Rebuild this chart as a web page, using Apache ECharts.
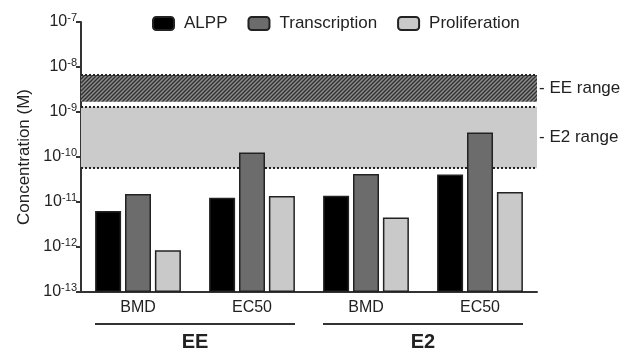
<!DOCTYPE html>
<html>
<head>
<meta charset="utf-8">
<script src="https://cdn.jsdelivr.net/npm/echarts@6/dist/echarts.min.js"></script>
<style>
  html, body { margin: 0; padding: 0; background: #fff; }
  #chart { width: 628px; height: 353px; }
</style>
</head>
<body>
<div id="chart"></div>
<script>
// data
const categories = ['BMD', 'EC50', 'BMD', 'EC50']
const groups = ['EE', 'E2']
const alpp = [6.3e-12, 1.25e-11, 1.38e-11, 4.1e-11]
const transcription = [1.5e-11, 1.26e-10, 4.2e-11, 3.5e-10]
const proliferation = [8.5e-13, 1.36e-11, 4.5e-12, 1.67e-11]
const eeRange = [1.7e-9, 6.6e-9]
const e2Range = [5.6e-11, 1.3e-9]
const yMin = 1e-13
const yMax = 1e-7

const FONT = '"Liberation Sans", Arial, sans-serif'
const INK = '#222'

// diagonal hatch for the EE band
function hatch() {
  const c = document.createElement('canvas')
  c.width = 4
  c.height = 4
  const g = c.getContext('2d')
  g.fillStyle = '#8c8c8c'
  g.fillRect(0, 0, 4, 4)
  g.strokeStyle = '#2e2e2e'
  g.lineWidth = 1.3
  g.beginPath()
  g.moveTo(0, 4); g.lineTo(4, 0)
  g.moveTo(-1, 1); g.lineTo(1, -1)
  g.moveTo(3, 5); g.lineTo(5, 3)
  g.stroke()
  return c
}

const chart = echarts.init(document.getElementById('chart'))

const bar = (name, data, color) => ({
  name,
  type: 'bar',
  data,
  barWidth: 26,
  barGap: '15%',
  z: 3,
  itemStyle: {color, borderColor: INK, borderWidth: 1.5},
})

// the two concentration bands
const bands = {
  name: 'ranges',
  type: 'line',
  data: [],
  z: 1,
  markArea: {
    silent: true,
    label: {show: true, position: 'right', distance: 2, color: INK, fontSize: 17, fontFamily: FONT},
    data: [
      [{yAxis: eeRange[1], name: '- EE range', itemStyle: {color: {image: hatch(), repeat: 'repeat'}}},
       {yAxis: eeRange[0]}],
      [{yAxis: e2Range[1], name: '- E2 range', itemStyle: {color: '#cbcbcb'}},
       {yAxis: e2Range[0]}],
    ],
  },
}

const options = {
  animation: false,
  textStyle: {fontFamily: FONT, color: INK},
  grid: {left: 81, right: 91, top: 22, bottom: 61},
  legend: {
    top: 10,
    left: 147,
    itemWidth: 21,
    itemHeight: 13,
    itemGap: 20,
    textStyle: {fontSize: 17, color: INK, fontFamily: FONT, padding: [0, 0, 0, 5]},
    data: ['ALPP', 'Transcription', 'Proliferation'],
  },
  xAxis: [
    {
      type: 'category',
      data: categories,
      axisLine: {lineStyle: {color: '#333', width: 2}},
      axisTick: {alignWithLabel: true, length: 5, lineStyle: {width: 2}},
      axisLabel: {fontSize: 16, color: INK, margin: 8, fontFamily: FONT},
    },
    {
      type: 'category',
      data: groups,
      position: 'bottom',
      axisLine: {show: false},
      axisTick: {show: false},
      axisLabel: {fontSize: 20, fontWeight: 'bold', color: INK, margin: 40, fontFamily: FONT},
    },
  ],
  yAxis: {
    type: 'log',
    logBase: 10,
    min: yMin,
    max: yMax,
    startValue: yMin,
    interval: 1,
    name: 'Concentration (M)',
    nameLocation: 'middle',
    nameGap: 48,
    nameTextStyle: {fontSize: 17, color: INK, fontFamily: FONT},
    axisLine: {show: true, lineStyle: {color: '#333', width: 2}},
    axisTick: {show: true, length: 5, lineStyle: {width: 2}},
    splitLine: {show: false},
    axisLabel: {
      margin: 4,
      formatter: v => `{b|10}{s|${Math.round(Math.log10(v))}}`,
      rich: {
        b: {fontSize: 16, color: INK, fontFamily: FONT, lineHeight: 20},
        s: {fontSize: 11, color: INK, fontFamily: FONT, verticalAlign: 'top', lineHeight: 12},
      },
    },
  },
  series: [
    bands,
    bar('ALPP', alpp, '#000'),
    bar('Transcription', transcription, '#6c6c6c'),
    bar('Proliferation', proliferation, '#c9c9c9'),
  ],
}

chart.setOption(options)

// x extent of the plot, from the category scale
const c0 = chart.convertToPixel({xAxisIndex: 0}, 0)
const c1 = chart.convertToPixel({xAxisIndex: 0}, 1)
const cN = chart.convertToPixel({xAxisIndex: 0}, categories.length - 1)
const band = c1 - c0
const xLeft = c0 - band / 2
const xRight = cN + band / 2

// dotted band edges
function dottedLine(v) {
  const y = Math.round(chart.convertToPixel({yAxisIndex: 0}, v))
  return {
    type: 'line',
    z: 1,
    silent: true,
    shape: {x1: xLeft, y1: y, x2: xRight, y2: y},
    style: {stroke: '#222', lineWidth: 2, lineDash: [2, 2]},
  }
}

// group underlines
function groupLine(i0, i1) {
  const a = chart.convertToPixel({xAxisIndex: 0}, i0)
  const b = chart.convertToPixel({xAxisIndex: 0}, i1)
  const y = chart.convertToPixel({yAxisIndex: 0}, yMin) + 32
  const half = 26 * 1.5 + 4
  return {
    type: 'line',
    shape: {x1: a - half, y1: y, x2: b + half, y2: y},
    style: {stroke: '#333', lineWidth: 2},
  }
}

chart.setOption({
  graphic: [
    dottedLine(eeRange[1]),
    dottedLine(e2Range[1]),
    dottedLine(e2Range[0]),
    groupLine(0, 1),
    groupLine(2, 3),
  ],
})
</script>
</body>
</html>
